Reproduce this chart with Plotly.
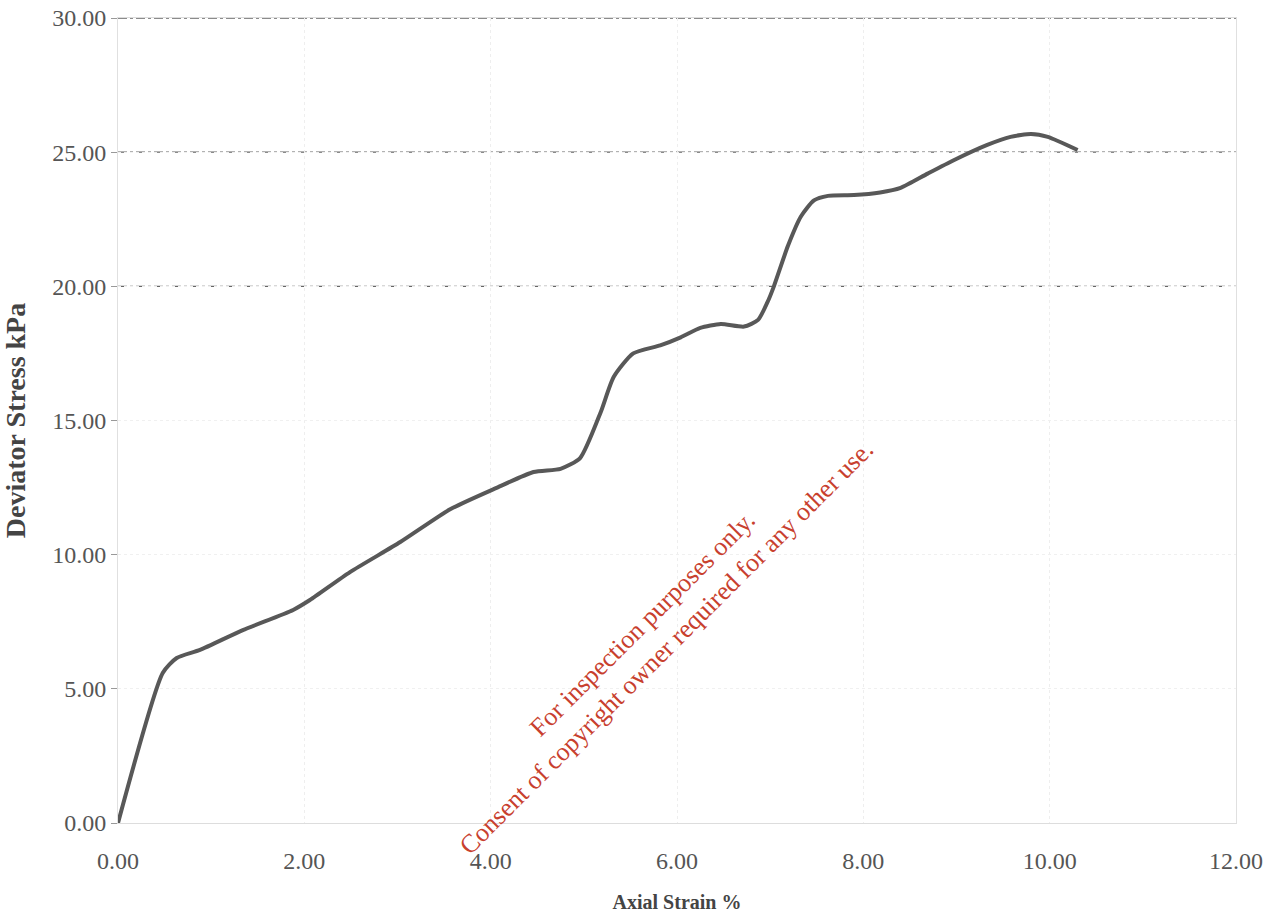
"""
Deviator stress vs axial strain (triaxial test curve)
"""

import plotly.graph_objects as go

# Data
AXIAL_STRAIN = [0.00, 0.48, 0.63, 0.88, 1.34, 1.88, 2.06,
                2.49, 3.03, 3.57, 4.07, 4.46, 4.75, 4.96, 5.18, 5.32, 5.53,
                5.82, 6.04, 6.25, 6.47, 6.72, 6.87, 6.97, 7.04, 7.19, 7.33,
                7.47, 7.62, 7.90, 8.18, 8.40, 8.69, 8.97, 9.33, 9.58, 9.80,
                9.98, 10.30]
DEVIATOR_STRESS = [0.00, 5.59, 6.15, 6.45, 7.19, 7.94, 8.31,
                   9.35, 10.47, 11.70, 12.50, 13.08, 13.20, 13.60, 15.30, 16.62, 17.50,
                   17.80, 18.10, 18.45, 18.60, 18.50, 18.75, 19.40, 20.00, 21.50, 22.60,
                   23.20, 23.37, 23.40, 23.50, 23.67, 24.20, 24.70, 25.27, 25.57, 25.68,
                   25.57, 25.08]

X_TICKS = [0, 2, 4, 6, 8, 10, 12]
Y_TICKS = [0, 5, 10, 15, 20, 25, 30]
GRID_LEVELS = [20, 25, 30]

WATERMARK = "For inspection purposes only.<br>Consent of copyright owner required for any other use."

FONT = 'Liberation Serif'
TEXT_COLOR = '#555555'


def create_figure():
    fig = go.Figure(go.Scatter(
        x=AXIAL_STRAIN,
        y=DEVIATOR_STRESS,
        mode='lines',
        line=dict(color='#585858', width=4, shape='spline', smoothing=0.6),
        hoverinfo='x+y',
        showlegend=False
    ))

    # dash-dot reference lines (the ones that survived the scan)
    for level in GRID_LEVELS:
        fig.add_shape(type='line', xref='paper', yref='y', x0=0, x1=1, y0=level, y1=level,
                      line=dict(color='#666666', width=1.3, dash='dashdot'), layer='below')

    fig.add_annotation(
        text=WATERMARK, xref='paper', yref='paper', x=0.480, y=0.233,
        xanchor='center', yanchor='middle',
        showarrow=False, textangle=-45, align='center',
        font=dict(family=FONT, size=26, color='#c8402e')
    )

    fig.update_layout(
        width=1268, height=913,
        margin=dict(l=118, r=32, t=18, b=90),
        plot_bgcolor='white', paper_bgcolor='white',
        font=dict(family=FONT, color=TEXT_COLOR, size=24),
        xaxis=dict(
            range=[0, 12], tickvals=X_TICKS, tickformat='.2f', automargin=False,
            showgrid=True, gridcolor='#eeeeee', griddash='dot', gridwidth=1,
            zeroline=False, showline=True, linecolor='#dddddd', mirror=True,
            ticks='', ticklabelstandoff=16, ticklabeloverflow='allow',
            title=dict(text='<b>Axial Strain %</b>', font=dict(size=20, color='#444444'), standoff=32)
        ),
        yaxis=dict(
            range=[0, 30], tickvals=Y_TICKS, tickformat='.2f', automargin=False,
            showgrid=True, gridcolor='#f0f0f0', griddash='dot', gridwidth=1,
            zeroline=False, showline=True, linecolor='#e0e0e0', mirror=True,
            ticks='outside', ticklen=6, tickcolor='#999999', ticklabelstandoff=0,
            ticklabeloverflow='allow',
            title=dict(text='<b>Deviator Stress kPa</b>', font=dict(size=28, color='#444444'), standoff=22)
        )
    )
    return fig


def main():
    fig = create_figure()
    # drop the default body margin so the full-size figure fits the window
    fig.write_html('out.html', config={'displayModeBar': False},
                   post_script="document.body.style.margin='0';")
    print('[OK] Saved: out.html')


if __name__ == '__main__':
    main()
